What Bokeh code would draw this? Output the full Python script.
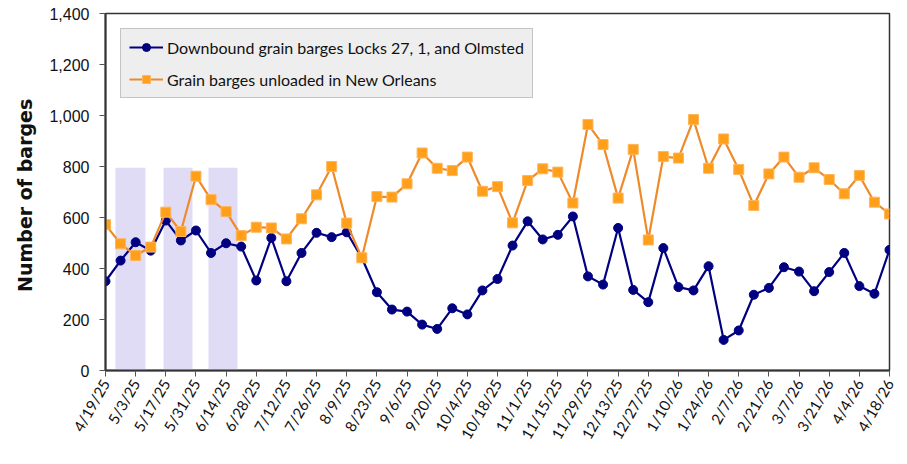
from bokeh.plotting import figure
from bokeh.models import (Range1d, FixedTicker, NumeralTickFormatter, Legend, LegendItem,
                          BoxAnnotation, ColumnDataSource)
from bokeh.embed import file_html
from bokeh.resources import INLINE
import math

# ---- data ----
week_labels = ["4/19/25", "5/3/25", "5/17/25", "5/31/25", "6/14/25", "6/28/25", "7/12/25",
               "7/26/25", "8/9/25", "8/23/25", "9/6/25", "9/20/25", "10/4/25", "10/18/25",
               "11/1/25", "11/15/25", "11/29/25", "12/13/25", "12/27/25", "1/10/26", "1/24/26",
               "2/7/26", "2/21/26", "3/7/26", "3/21/26", "4/4/26", "4/18/26"]

downbound = [350, 431, 503, 470, 588, 510, 549, 461, 499, 486, 353, 520, 350, 461,
             540, 523, 542, 442, 307, 239, 231, 180, 163, 244, 220, 314, 359, 490,
             585, 514, 532, 604, 369, 337, 559, 316, 268, 480, 327, 314, 409, 120,
             157, 297, 324, 405, 388, 311, 386, 461, 331, 301, 473]

new_orleans = [572, 497, 451, 484, 621, 545, 762, 670, 623, 529, 562, 559, 516, 595,
               689, 800, 578, 442, 682, 680, 732, 853, 793, 784, 837, 703, 721, 579,
               745, 791, 778, 657, 965, 886, 676, 867, 512, 839, 833, 984, 793, 908,
               788, 647, 771, 837, 758, 795, 749, 693, 765, 660, 614]

series_names = ["Downbound grain barges Locks 27, 1, and Olmsted",
                "Grain barges unloaded in New Orleans"]

week_index = list(range(len(downbound)))

# decorative watermark bands (x in week units)
watermark_bands = [(0.66, 2.65), (3.85, 5.77), (6.83, 8.75)]

src = ColumnDataSource(dict(x=week_index, down=downbound, nola=new_orleans))

p = figure(width=899, height=456, output_backend="svg", toolbar_location=None,
           x_range=Range1d(0, len(week_index) - 1), y_range=Range1d(0, 1400),
           min_border_left=105, min_border_right=10, min_border_top=13, min_border_bottom=86)

p.background_fill_color = "white"
p.border_fill_color = "white"
p.outline_line_color = "#333333"
p.outline_line_width = 1.5
p.xgrid.visible = False
p.ygrid.visible = False

for l, r in watermark_bands:
    p.add_layout(BoxAnnotation(left=l, right=r, bottom=0, top=795, fill_color="#dcd6f4",
                               fill_alpha=0.85, line_alpha=0, level="underlay"))

r1l = p.line("x", "down", source=src, line_color="#000080", line_width=2.2)
r1m = p.scatter("x", "down", source=src, marker="circle", size=9,
                fill_color="#000080", line_color="#000080")
r2l = p.line("x", "nola", source=src, line_color="#EE8A2A", line_width=2.2)
r2m = p.scatter("x", "nola", source=src, marker="square", size=10,
                fill_color="#FF9F1A", line_color="#FFB55A", line_width=1)

# axes
xa = p.xaxis[0]
xa.ticker = FixedTicker(ticks=week_index[::2])
xa.major_label_overrides = {i: lab for i, lab in zip(week_index[::2], week_labels)}
xa.major_label_orientation = math.pi / 3
xa.major_label_text_font = "Lato"
xa.major_label_text_font_size = "15px"
xa.major_label_text_color = "#111111"
xa.major_tick_out = 6
xa.major_tick_in = 0
xa.minor_tick_line_color = None
xa.axis_line_width = 2
xa.axis_line_color = "#333333"
xa.major_tick_line_color = "#555555"
xa.major_label_standoff = 4

ya = p.yaxis[0]
ya.ticker = FixedTicker(ticks=[0, 200, 400, 600, 800, 1000, 1200, 1400])
ya.formatter = NumeralTickFormatter(format="0,0")
ya.major_label_text_font = "Liberation Sans"
ya.major_label_text_font_size = "16px"
ya.major_label_text_color = "#111111"
ya.major_tick_out = 6
ya.major_tick_in = 0
ya.minor_tick_line_color = None
ya.axis_line_width = 2
ya.axis_line_color = "#333333"
ya.major_tick_line_color = "#555555"
ya.major_label_standoff = 10
ya.axis_label = "Number of  barges"
ya.axis_label_text_font = "DejaVu Sans"
ya.axis_label_text_font_style = "bold"
ya.axis_label_text_font_size = "19px"
ya.axis_label_text_color = "#111111"
ya.axis_label_standoff = 10

legend = Legend(items=[LegendItem(label=series_names[0], renderers=[r1l, r1m]),
                       LegendItem(label=series_names[1], renderers=[r2l, r2m])],
                location="top_left", margin=15)
legend.background_fill_color = "#eeeeee"
legend.background_fill_alpha = 1
legend.border_line_color = "#999999"
legend.border_line_width = 1.5
legend.label_text_font = "Lato"
legend.label_text_font_size = "16px"
legend.label_text_color = "#111111"
legend.glyph_width = 34
legend.label_standoff = 4
legend.spacing = 12
legend.padding = 8
p.add_layout(legend, "center")

open("out.html", "w").write(file_html(p, INLINE))
